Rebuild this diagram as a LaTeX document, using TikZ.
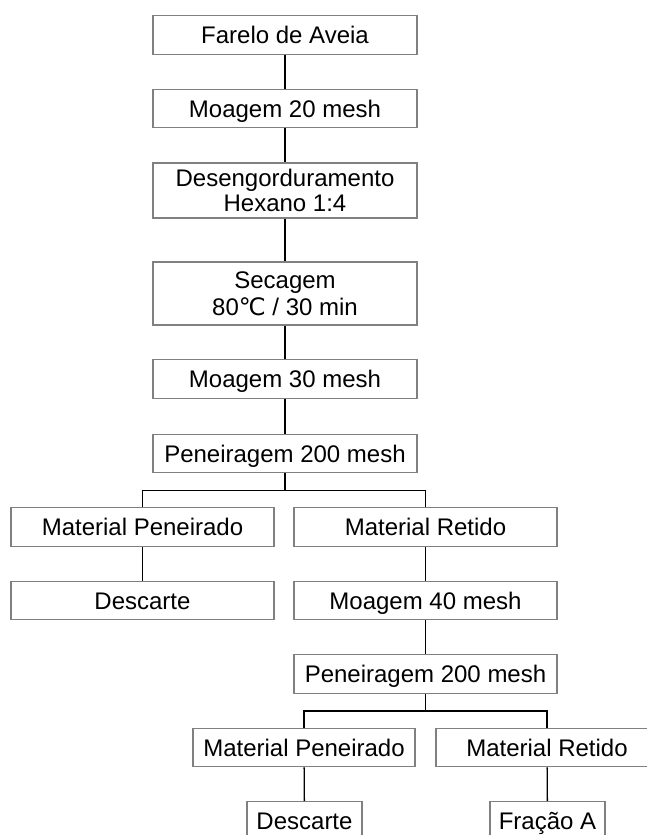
\documentclass[tikz,border=0pt]{standalone}
\usepackage{fontspec}
\setmainfont{Liberation Sans}
\newfontfamily\djv{DejaVu Sans}
\definecolor{boxgray}{RGB}{128,128,128}
\begin{document}
\begin{tikzpicture}[x=1pt,y=-1pt,
  boxbase/.style={draw=boxgray, line width=1.3pt, inner sep=0pt, text=black},
  one/.style={boxbase, font=\fontsize{24}{25}\selectfont, text height=17pt, text depth=0pt, minimum height=38.5pt},
  two/.style={boxbase, align=center},
  conn/.style={draw=black, line width=1.3pt}]
\useasboundingbox (0,0) rectangle (647,835);

\node[one, minimum width=264pt] (farelo) at (285,35) {Farelo de Aveia};
\node[one, minimum width=264pt] (moag20) at (285,108.5) {Moagem 20 mesh};
\node[two, minimum width=264pt, minimum height=55pt, font=\fontsize{24}{25}\selectfont] (deseng) at (285,190.5) {Desengorduramento\\Hexano 1:4};
\node[two, minimum width=264pt, minimum height=63pt, font=\fontsize{24}{27}\selectfont] (secag) at (285,293.5) {Secagem\\80{\djv ℃} / 30 min};
\node[one, minimum width=264pt] (moag30) at (285,379) {Moagem 30 mesh};
\node[one, minimum width=264pt] (pen1) at (285,453.5) {Peneiragem 200 mesh};

\node[one, minimum width=263pt] (matpen1) at (142.5,527) {Material Peneirado};
\node[one, minimum width=263pt] (matret1) at (425.5,527) {Material Retido};
\node[one, minimum width=263pt] (desc1) at (142.5,600.5) {Descarte};
\node[one, minimum width=263pt] (moag40) at (425.5,600.5) {Moagem 40 mesh};
\node[one, minimum width=263pt] (pen2) at (425.5,674) {Peneiragem 200 mesh};

\node[one, minimum width=222pt] (matpen2) at (304,747.5) {Material Peneirado};
\node[one, minimum width=222pt] (matret2) at (547,747.5) {Material Retido};
\node[one, minimum width=115pt] (desc2) at (304.5,821) {Descarte};
\node[one, minimum width=115pt] (fracao) at (547.5,821) {Fração A};

\draw[conn] (farelo) -- (moag20);
\draw[conn] (moag20) -- (deseng);
\draw[conn] (deseng) -- (secag);
\draw[conn] (secag) -- (moag30);
\draw[conn] (moag30) -- (pen1);
\draw[conn] (pen1.south) -- ++(0,17) -| (matpen1.north);
\draw[conn] (pen1.south) -- ++(0,17) -| (matret1.north);
\draw[conn] (matpen1) -- (desc1);
\draw[conn] (matret1) -- (moag40);
\draw[conn] (moag40) -- (pen2);
\draw[conn] (pen2.south) -- ++(0,17) -| (matpen2.north);
\draw[conn] (pen2.south) -- ++(0,17) -| (matret2.north);
\draw[conn] (matpen2) -- (desc2);
\draw[conn] (matret2) -- (fracao);
\end{tikzpicture}
\end{document}
